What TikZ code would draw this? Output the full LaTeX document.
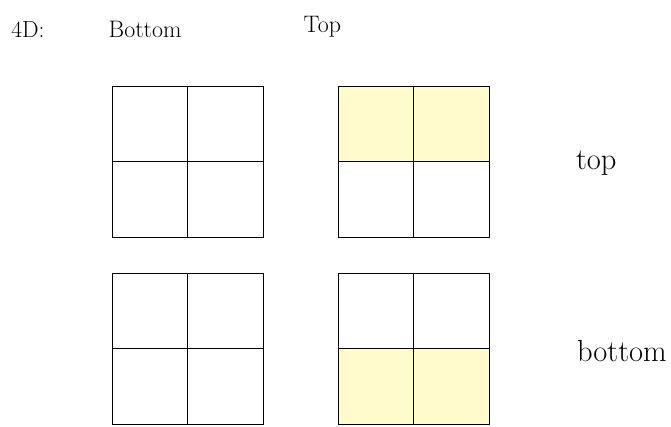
\documentclass[tikz,border=0pt]{standalone}
\definecolor{cellyellow}{RGB}{255,251,204}

\begin{document}
\begin{tikzpicture}[line width=0.6pt]
    \useasboundingbox (0,0) rectangle (17.775,11.311);

    % Define the corners of the grids
    \coordinate (BT) at (2.967,5.033);
    \coordinate (TT) at (8.954,5.033);
    \coordinate (BB) at (2.967,0.079);
    \coordinate (TB) at (8.954,0.079);

    % Shade the cells
    \fill[cellyellow, shift={(TT)}] (0,2) rectangle (4,4);
    \fill[cellyellow, shift={(TB)}] (0,0) rectangle (4,2);

    % Draw the grids
    \foreach \c in {BT,TT,BB,TB}
        \draw[shift={(\c)}] (0,0) rectangle (4,4) (2,0) -- (2,4) (0,2) -- (4,2);

    % Place the labels
    \node (dim) at (0.291,10.313) [anchor=base west,inner sep=0pt,font=\fontsize{17.6}{21}\selectfont] {4D:};
    \node (bot) at (2.869,10.313) [anchor=base west,inner sep=0pt,font=\fontsize{18}{22}\selectfont] {Bottom};
    \node (top) at (8.035,10.456) [anchor=base west,inner sep=0pt,font=\fontsize{18}{22}\selectfont] {Top};
    \node (rtop) at (15.25,6.819) [anchor=base west,inner sep=0pt,font=\fontsize{23}{28}\selectfont] {top};
    \node (rbot) at (15.277,1.730) [anchor=base west,inner sep=0pt,font=\fontsize{23}{28}\selectfont] {bottom};
\end{tikzpicture}
\end{document}
